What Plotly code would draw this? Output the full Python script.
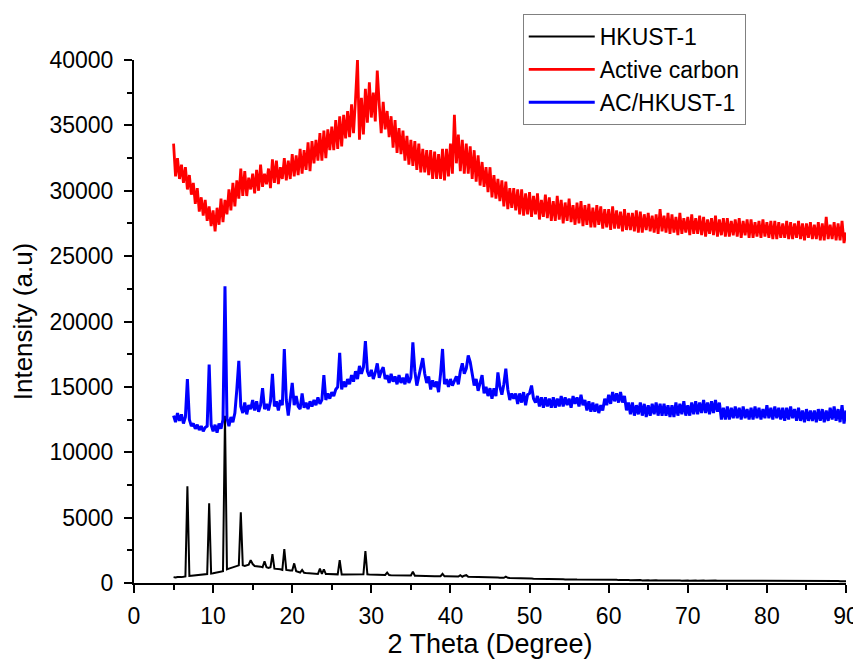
import plotly.graph_objects as go

# 2-theta grid: 5..90 deg, step 0.25
X_START = 5.0
X_STEP = 0.25

hkust = [
    450, 420, 460, 430, 450, 470, 500, 7400, 550, 560, 580, 600, 600, 620, 620, 640, 660, 680, 6100, 720,
    740, 770, 790, 820, 860, 900, 12800, 1050, 1100, 1150, 1200, 1250, 1300, 1350, 5400, 1350, 1300, 1350, 1400, 1750,
    1450, 1300, 1300, 1250, 1250, 1200, 1650, 1200, 1150, 1200, 2200, 1100, 1100, 1050, 1050, 1000, 2600, 1000, 950, 950,
    950, 1500, 900, 850, 800, 1000, 780, 760, 740, 720, 720, 700, 700, 690, 1100, 690, 1050, 680, 680, 670,
    670, 660, 660, 660, 1750, 650, 650, 650, 650, 640, 640, 640, 640, 640, 640, 650, 660, 2450, 660, 650,
    640, 640, 630, 630, 620, 620, 620, 620, 800, 610, 600, 600, 600, 590, 590, 580, 580, 580, 570, 570,
    570, 860, 560, 560, 550, 550, 540, 540, 540, 530, 530, 530, 520, 520, 520, 520, 700, 510, 510, 500,
    500, 500, 490, 490, 490, 600, 480, 560, 600, 470, 470, 460, 460, 460, 450, 450, 450, 440, 440, 430,
    430, 430, 420, 420, 420, 410, 410, 400, 480, 400, 390, 390, 380, 380, 370, 370, 360, 360, 350, 350,
    340, 340, 330, 330, 320, 320, 310, 310, 300, 300, 300, 290, 290, 290, 280, 290, 280, 280, 270, 280,
    270, 270, 260, 270, 260, 260, 250, 260, 250, 250, 240, 250, 250, 240, 240, 250, 240, 240, 230, 240,
    280, 230, 250, 230, 240, 220, 230, 220, 230, 220, 230, 210, 220, 210, 230, 210, 220, 200, 220, 210,
    210, 200, 220, 200, 210, 200, 210, 190, 210, 190, 200, 190, 200, 190, 210, 190, 200, 180, 200, 190,
    200, 180, 200, 180, 190, 180, 200, 180, 190, 180, 190, 170, 190, 170, 190, 180, 180, 170, 190, 170,
    180, 170, 180, 170, 180, 160, 180, 170, 180, 160, 170, 160, 180, 160, 170, 160, 170, 160, 170, 150,
    170, 150, 170, 160, 170, 150, 160, 150, 170, 150, 160, 150, 160, 150, 160, 140, 160, 150, 160, 140,
    160, 140, 160, 150, 150, 140, 160, 140, 150, 140, 150, 140, 150, 140, 160, 140, 150, 130, 150, 140,
    140,
]

active_carbon = [
    33600, 31100, 32500, 30900, 32000, 30600, 31800, 30100, 31200, 29700, 30600, 29000, 30200, 28400, 29500, 28100, 29300, 27700, 28800, 27300,
    28500, 26900, 28700, 27400, 29400, 27600, 29300, 28200, 30100, 28500, 30600, 28800, 30800, 29400, 31700, 29600, 31500, 29600, 31000, 30100,
    31300, 29800, 31600, 30000, 32000, 30300, 31300, 30500, 31700, 30200, 32400, 30600, 32300, 30500, 31800, 30900, 32500, 30800, 32300, 30900,
    32800, 31100, 32700, 31200, 33200, 31300, 33100, 31600, 33700, 31500, 33800, 32100, 33900, 32300, 34400, 32300, 34600, 32500, 34700, 33100,
    34900, 33100, 35400, 33200, 35700, 33400, 35800, 34000, 36100, 34100, 36600, 34400, 37000, 40000, 33900, 37100, 34300, 37800, 35200, 38300,
    35600, 37500, 35300, 39200, 36600, 34400, 36800, 34700, 36100, 34100, 35700, 33300, 35400, 32900, 34800, 32800, 34600, 32300, 34200, 32000,
    33900, 31900, 33800, 31600, 33600, 31400, 33200, 31400, 33100, 31200, 33100, 30900, 33000, 30900, 32800, 30900, 33200, 30800, 33200, 31100,
    33600, 31300, 35800, 32100, 34300, 31500, 33900, 31300, 33600, 31300, 33400, 30900, 33100, 30700, 32700, 30400, 32200, 30300, 31800, 29900,
    31800, 29500, 31200, 29400, 30900, 29200, 30800, 28800, 30700, 28600, 30200, 28700, 30200, 28500, 30100, 28200, 30100, 28100, 29800, 28200,
    29900, 28000, 29600, 28200, 29800, 27800, 29300, 28000, 29700, 27900, 29500, 27700, 29200, 27700, 29600, 27800, 29300, 27500, 29100, 27700,
    29400, 27600, 28900, 27400, 29100, 27500, 29200, 27300, 28900, 27400, 29000, 27200, 28700, 27200, 28900, 27400, 28800, 27100, 28600, 27200,
    28600, 27000, 28800, 27100, 28500, 27100, 28400, 26900, 28600, 27000, 28300, 27000, 28300, 26900, 28500, 26800, 28400, 26800, 28200, 27000,
    28300, 26900, 28100, 26800, 28200, 26700, 28600, 26900, 28100, 26800, 28300, 26700, 28200, 26800, 28000, 26600, 28300, 26700, 27900, 26800,
    28000, 26600, 28200, 26700, 27900, 26700, 28100, 26600, 28000, 26500, 27800, 26700, 27900, 26600, 28100, 26500, 27800, 26600, 27900, 26500,
    27900, 26500, 27700, 26600, 27800, 26500, 27900, 26400, 27700, 26600, 27800, 26400, 27800, 26400, 27600, 26500, 27700, 26400, 27800, 26500,
    27600, 26400, 27700, 26300, 27700, 26300, 27600, 26400, 27500, 26400, 27700, 26300, 27600, 26300, 27500, 26400, 27700, 26300, 27500, 26200,
    27500, 26400, 27600, 26300, 27400, 26300, 27600, 26200, 27500, 26200, 28000, 26300, 27400, 26300, 27600, 26200, 27500, 26200, 27700, 26000,
    26800,
]

ac_hkust = [
    12800, 12300, 13000, 12400, 12900, 12200, 12700, 15600, 12500, 12000, 12200, 11800, 12100, 11700, 12000, 11600, 11900, 12000, 16700, 12100,
    11600, 12100, 11500, 12200, 11800, 12500, 22700, 12600, 12000, 12700, 12300, 13000, 14800, 17000, 13500, 13000, 13800, 12900, 13600, 13300,
    14000, 13200, 13900, 13100, 13600, 14900, 13300, 13700, 13200, 13900, 16000, 13500, 13900, 13200, 14000, 13600, 17900, 14000, 12800, 14200,
    15300, 13600, 14300, 13500, 13300, 14500, 13400, 13800, 13300, 13900, 13500, 14000, 13600, 14200, 13700, 14000, 15900, 14000, 14500, 14100,
    14600, 14300, 14800, 15000, 17600, 14800, 15400, 15000, 15600, 15200, 15900, 15400, 16200, 15600, 16600, 16000, 16500, 18500, 16200, 15800,
    16300, 15600, 16100, 16800, 15700, 16200, 16500, 15600, 15900, 15300, 16000, 15400, 15800, 15200, 15900, 15300, 15700, 15200, 16000, 15300,
    15700, 18400, 16200, 15100, 15900, 16600, 17200, 16000, 15300, 15800, 14800, 15500, 15000, 15400, 14600, 16000, 17900, 15200, 15600, 15000,
    15600, 15100, 15400, 15800, 15200, 16200, 16800, 16000, 16400, 17400, 16900, 15900, 15100, 15600, 14700, 15300, 15900, 14500, 15000, 14300,
    14900, 14100, 14900, 14300, 16100, 15000, 14400, 15200, 16400, 14800, 14000, 14500, 14100, 14500, 13700, 14500, 13800, 14600, 13600, 14400,
    14500, 15100, 14100, 13800, 14300, 13500, 14200, 13400, 14200, 13500, 14100, 13400, 14200, 13400, 14100, 13500, 14300, 13500, 14200, 13600,
    14100, 13400, 14300, 13700, 14200, 13500, 14400, 13600, 14000, 13200, 13900, 13100, 13800, 13100, 13700, 13000, 13600, 13200, 14100, 13600,
    14400, 13700, 14600, 13900, 14500, 13800, 14600, 13800, 14300, 13200, 13800, 12900, 13800, 12800, 13600, 12900, 13800, 12800, 13700, 12700,
    13600, 12800, 13700, 12900, 13800, 12800, 13700, 12800, 13700, 12800, 13600, 12700, 13600, 12700, 13800, 12800, 13700, 12900, 13900, 12800,
    13600, 12800, 13800, 12900, 13900, 12900, 13800, 13000, 14000, 13000, 13800, 12900, 13900, 13000, 14000, 13100, 13800, 12500, 13400, 12500,
    13500, 12500, 13400, 12600, 13500, 12600, 13400, 12500, 13500, 12600, 13300, 12500, 13400, 12500, 13500, 12600, 13400, 12500, 13300, 12600,
    13600, 12600, 13400, 12500, 13500, 12600, 13400, 12500, 13400, 12400, 13400, 12500, 13500, 12600, 13300, 12400, 13400, 12400, 13200, 12300,
    13300, 12400, 13200, 12400, 13200, 12300, 13300, 12400, 13300, 12300, 13200, 12400, 13400, 12500, 13500, 12400, 13300, 12300, 13600, 12200,
    13200,
]

series = [
    ("HKUST-1", hkust, "#000000", 2),
    ("Active carbon", active_carbon, "#FF0000", 2.8),
    ("AC/HKUST-1", ac_hkust, "#0000FF", 3),
]

FONT = "Liberation Sans, Arial, sans-serif"

fig = go.Figure()
for name, ys, color, w in series:
    xs = [X_START + X_STEP * i for i in range(len(ys))]
    fig.add_trace(go.Scatter(x=xs, y=ys, mode="lines", name=name,
                             line=dict(color=color, width=w)))

axis_common = dict(
    showline=True, linecolor="black", linewidth=2,
    ticks="outside", tickwidth=2, ticklen=8, tickcolor="black",
    showgrid=False, zeroline=False, mirror=False, automargin=False,
    tickfont=dict(family=FONT, size=23, color="black"),
)

fig.update_xaxes(range=[0, 90], dtick=10, tick0=0, ticklabelstandoff=3,
                 minor=dict(dtick=5, ticks="outside", ticklen=5, tickwidth=2, tickcolor="black"),
                 title=dict(text="2 Theta (Degree)", font=dict(family=FONT, size=27, color="black"), standoff=4),
                 **axis_common)
fig.update_yaxes(range=[0, 40000], dtick=5000, tick0=0, tickformat="d", ticklabelstandoff=6,
                 minor=dict(dtick=2500, ticks="outside", ticklen=5, tickwidth=2, tickcolor="black"),
                 title=dict(text="Intensity (a.u)", font=dict(family=FONT, size=26, color="black"), standoff=12),
                 **axis_common)

# page body adds an 8px offset; margins compensate so the plot area sits at x 134-846, y 60-583
fig.update_layout(
    width=861, height=662,
    margin=dict(l=126, r=23, t=52, b=87, autoexpand=False),
    paper_bgcolor="white", plot_bgcolor="white",
    font=dict(family=FONT, color="black"),
    legend=dict(x=0.546, y=1.088, xanchor="left", yanchor="top",
                bordercolor="#808080", borderwidth=1, bgcolor="white",
                font=dict(family=FONT, size=23, color="black"),
                itemwidth=66, tracegroupgap=0),
)

fig.write_html("out.html")
